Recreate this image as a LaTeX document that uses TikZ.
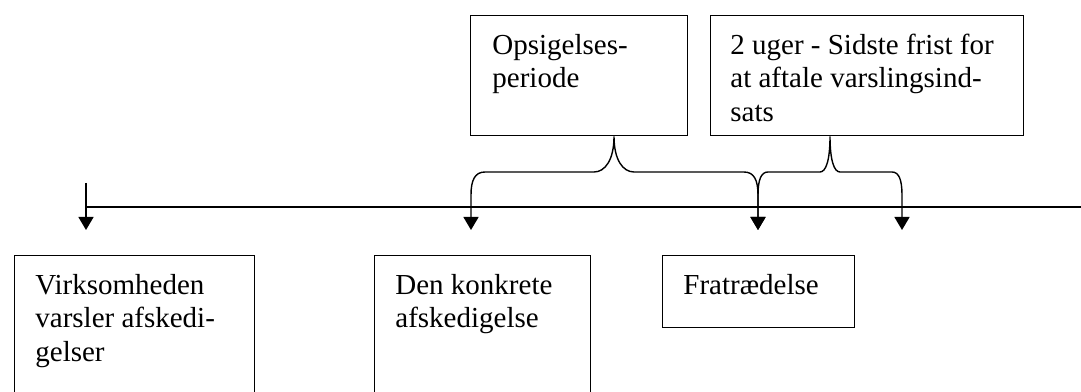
\documentclass[tikz,border=0pt]{standalone}
\usepackage{fontspec}
\setmainfont{Liberation Serif}
\usetikzlibrary{arrows.meta,calc}

\tikzset{
  boks/.style={draw, line width=0.7pt, inner sep=0pt, anchor=north west},
  tekst/.style={align=left, inner sep=0pt, anchor=north west,
    font=\fontsize{14.5}{16.75}\selectfont},
  pil/.style={line width=0.7pt, -{Triangle[width=7.5pt,length=6.5pt]}},
  klamme/.style={line width=0.7pt,
    {Triangle[width=7.5pt,length=6.5pt]}-{Triangle[width=7.5pt,length=6.5pt]}},
}

\begin{document}
\begin{tikzpicture}[x=0.5pt,y=0.5pt]
      \useasboundingbox (0,0) rectangle (1081,391);
      \clip (0,0) rectangle (1081,391);
      % Boxes above the line
      \node[boks, minimum width=108.5pt, minimum height=60pt] (opsig) at (470,376) {};
      \node[boks, minimum width=156.5pt, minimum height=60pt] (frist) at (710,376) {};
      \node[tekst] (opsigtxt) at ([xshift=11pt,yshift=-7.75pt]opsig.north west) {\strut Opsigelses-\\periode};
      \node[tekst] (fristtxt) at ([xshift=10pt,yshift=-7.75pt]frist.north west) {\strut 2 uger - Sidste frist for\\at aftale varslingsind-\\sats};
      % Boxes below the line
      \node[boks, minimum width=120pt, minimum height=75pt] (varsel) at (14,136) {};
      \node[boks, minimum width=108pt, minimum height=75pt] (konkret) at (374,136) {};
      \node[boks, minimum width=96pt, minimum height=36pt] (fratr) at (662,136) {};
      \node[tekst] (varseltxt) at ([xshift=10.5pt,yshift=-7.75pt]varsel.north west) {\strut Virksomheden\\varsler afskedi-\\gelser};
      \node[tekst] (konkrettxt) at ([xshift=10.5pt,yshift=-7.75pt]konkret.north west) {\strut Den konkrete\\afskedigelse};
      \node[tekst] (fratrtxt) at ([xshift=10.5pt,yshift=-7.75pt]fratr.north west) {\strut Fratrædelse};
      % Time line
      \coordinate (start) at (86,184);
      \coordinate (slut) at (1081,184);
      \draw[line width=0.7pt] (start) -- (slut);
      % Arrow tips below the line
      \coordinate (t1) at (86,161);
      \coordinate (t2) at (471,161);
      \coordinate (t3) at (758,161);
      \coordinate (t4) at (902,161);
      \coordinate (b1) at ($(opsig.south west)+(144,0)$);
      \coordinate (b2) at ($(frist.south west)+(120,0)$);
      \draw[pil] (86,208) -- (t1);
      % Braces
      \draw[klamme] (t2) -- (471,196) .. controls (471,211) and (475,219) .. (485,219)
        -- (594,219) .. controls (605,219) and (614,231) .. (b1)
        .. controls (614,231) and (623,219) .. (634,219)
        -- (744,219) .. controls (754,219) and (758,211) .. (758,196) -- (t3);
      \draw[klamme] (t3) -- (758,196) .. controls (758,211) and (761,219) .. (768,219)
        -- (820,219) .. controls (826,219) and (830,231) .. (b2)
        .. controls (830,231) and (834,219) .. (840,219)
        -- (892,219) .. controls (899,219) and (902,211) .. (902,196) -- (t4);
    \end{tikzpicture}
\end{document}
